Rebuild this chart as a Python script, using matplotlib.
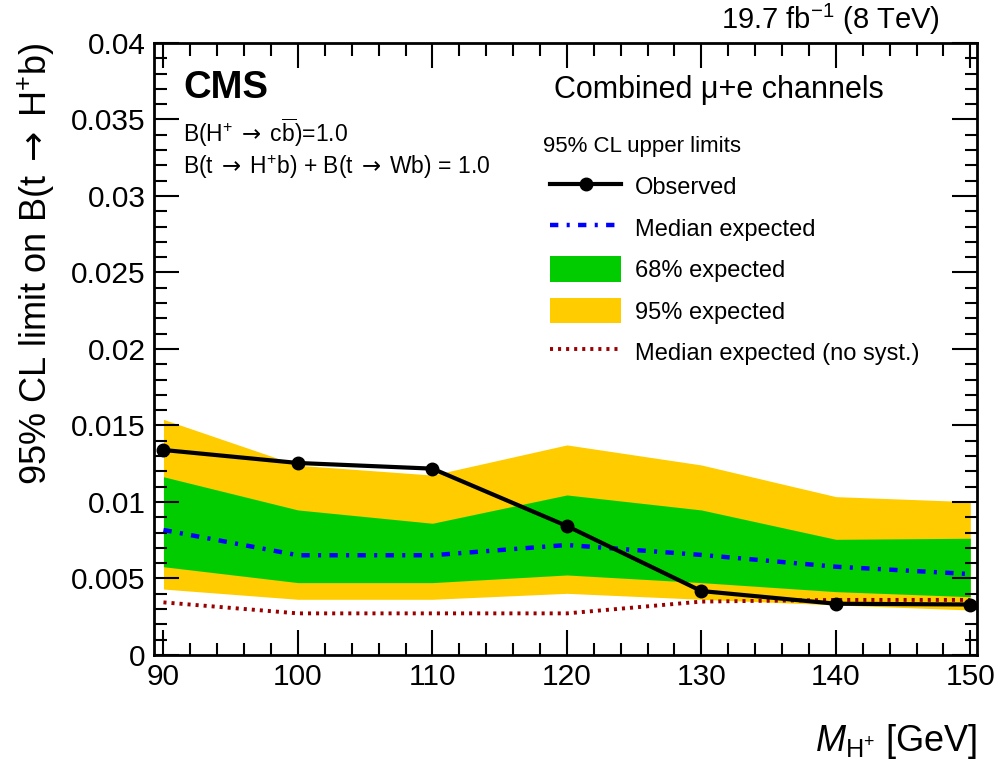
import matplotlib
matplotlib.use("Agg")
import matplotlib.pyplot as plt
from matplotlib.lines import Line2D
from matplotlib.patches import Patch
from matplotlib.ticker import MultipleLocator
import numpy as np

plt.rcParams['font.family'] = ['Liberation Sans', 'DejaVu Sans']
plt.rcParams['mathtext.fontset'] = 'custom'
plt.rcParams['mathtext.rm'] = 'Liberation Sans'
plt.rcParams['mathtext.it'] = 'Liberation Sans:italic'
plt.rcParams['mathtext.bf'] = 'Liberation Sans:bold'
plt.rcParams['mathtext.sf'] = 'DejaVu Sans'
plt.rcParams['lines.scale_dashes'] = False

ARROW = r'$\mathsf{\;\rightarrow\;}$'

# charged Higgs mass points [GeV]
mass = [90, 100, 110, 120, 130, 140, 150]

# 95% CL upper limits on B(t -> H+ b)
observed = [0.0134, 0.01255, 0.01218, 0.00843, 0.00418, 0.00335, 0.00330]
expected = [0.00817, 0.00652, 0.00652, 0.00719, 0.00654, 0.00577, 0.00529]
exp_68_lo = [0.00577, 0.00473, 0.00473, 0.00523, 0.00473, 0.00414, 0.00381]
exp_68_hi = [0.01165, 0.00948, 0.00861, 0.01046, 0.00948, 0.00756, 0.00763]
exp_95_lo = [0.00431, 0.00364, 0.00364, 0.00403, 0.00364, 0.00327, 0.00294]
exp_95_hi = [0.0154, 0.01240, 0.01176, 0.01373, 0.01242, 0.01035, 0.01002]
expected_nosyst = [0.00344, 0.00272, 0.00272, 0.00272, 0.00349, 0.00360, 0.00360]

green = '#00cc00'
yellow = '#ffcc00'
blue_dash = (6, 6, 2.2, 6)
red_dots = (2.2, 3.6)

fig = plt.figure(figsize=(9.97, 7.65), dpi=100)
ax = fig.add_axes([0.1545, 0.1438, 0.8255, 0.8])

ax.fill_between(mass, exp_95_lo, exp_95_hi, color=yellow, lw=0)
ax.fill_between(mass, exp_68_lo, exp_68_hi, color=green, lw=0)
ax.plot(mass, expected_nosyst, color='#990000', lw=2.8, dashes=red_dots)
ax.plot(mass, expected, color='#0000ff', lw=3.2, dashes=blue_dash,
        dash_capstyle='butt')
ax.plot(mass, observed, color='black', lw=3, marker='o', ms=9)

ax.set_xlim(89.3, 150.5)
ax.set_ylim(0, 0.04)
ax.xaxis.set_major_locator(MultipleLocator(10))
ax.xaxis.set_minor_locator(MultipleLocator(2))
ax.yaxis.set_minor_locator(MultipleLocator(0.001))
ax.set_yticks([0, 0.005, 0.01, 0.015, 0.02, 0.025, 0.03, 0.035, 0.04])
ax.set_yticklabels(['0', '0.005', '0.01', '0.015', '0.02', '0.025', '0.03',
                    '0.035', '0.04'])
ax.tick_params(which='both', direction='in', top=True, right=True,
               labelsize=21.5, width=1.5)
ax.tick_params(which='major', length=18, pad=6)
ax.tick_params(which='minor', length=9)
for s in ax.spines.values():
    s.set_linewidth(2)

ax.set_xlabel(r'$M_{\mathrm{H^{+}}}$ [GeV]', fontsize=26, loc='right',
              labelpad=22)
ax.set_ylabel('95% CL limit on B(t' + ARROW + r'H$^{+}$b)', fontsize=26,
              loc='top', labelpad=10)

fig.text(0.943, 0.974, r'19.7 fb$^{-1}$ (8 TeV)', fontsize=21,
         ha='right', va='center')
fig.text(0.184, 0.885, 'CMS', fontsize=27.5, fontweight='bold',
         ha='left', va='center')
fig.text(0.184, 0.827,
         r'B(H$^{+}$' + ARROW + r'c$\overline{\mathrm{b}}$)=1.0',
         fontsize=16.5, ha='left', va='center')
fig.text(0.184, 0.782,
         'B(t' + ARROW + r'H$^{+}$b) + B(t' + ARROW + 'Wb) = 1.0',
         fontsize=16.5, ha='left', va='center')
fig.text(0.556, 0.882, 'Combined μ+e channels', fontsize=22,
         ha='left', va='center')
fig.text(0.545, 0.809, '95% CL upper limits', fontsize=16,
         ha='left', va='center')

handles = [
    Line2D([], [], color='black', lw=3, marker='o', ms=9),
    Line2D([], [], color='#0000ff', lw=3.2, dashes=blue_dash),
    Patch(color=green, lw=0),
    Patch(color=yellow, lw=0),
    Line2D([], [], color='#990000', lw=2.8, dashes=red_dots),
]
labels = ['Observed', 'Median expected', '68% expected', '95% expected',
          'Median expected (no syst.)']
leg = ax.legend(handles, labels, fontsize=17, frameon=False,
                loc='upper left', bbox_to_anchor=(0.552, 0.773),
                bbox_transform=fig.transFigure,
                handlelength=3.0, handleheight=1.3, labelspacing=0.66,
                handletextpad=0.6, borderaxespad=0, borderpad=0)

fig.savefig('out.png', dpi=100)
